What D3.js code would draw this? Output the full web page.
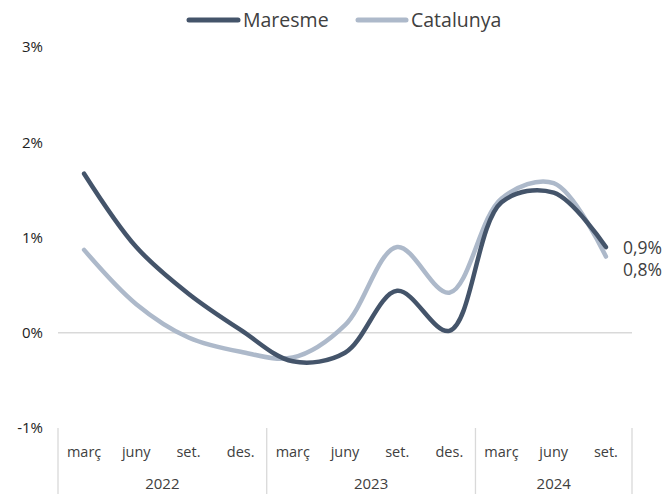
<!DOCTYPE html>
<html><head><meta charset="utf-8">
<script src="https://cdn.jsdelivr.net/npm/d3@7"></script>
<style>body{margin:0;background:#fff}svg{display:block}text{font-family:"Open Sans",Lato,sans-serif}</style>
</head><body>
<svg id="c" width="669" height="494"></svg>
<script>
const months = ["març","juny","set.","des.","març","juny","set.","des.","març","juny","set."];
const years = ["2022","2023","2024"];
const yearCounts = [4,4,3];
const maresme = [1.67,0.90,0.41,0.03,-0.30,-0.21,0.44,0.02,1.37,1.47,0.90];
const catalunya = [0.87,0.30,-0.05,-0.20,-0.26,0.08,0.90,0.42,1.41,1.57,0.80];
const yTicks = [-1,0,1,2,3];
const seriesNames = ["Maresme","Catalunya"];
const colors = ["#44546A","#ADB9CA"];

const svg = d3.select("#c");
const x = d3.scaleBand().domain(d3.range(months.length)).range([58,632]);
const y = d3.scaleLinear().domain([-1,3]).range([428,47]);
const cx = i => x(i) + x.bandwidth()/2;

// y tick labels
svg.append("g").selectAll("text").data(yTicks).join("text")
  .attr("x",43).attr("y",d=>y(d)).attr("dy","0.35em").attr("text-anchor","end")
  .attr("font-size",15).attr("fill","#222").text(d=>d+"%");

// zero line
svg.append("line").attr("x1",58).attr("x2",632).attr("y1",y(0)).attr("y2",y(0))
  .attr("stroke","#D9D9D9").attr("stroke-width",1.5);

// separators
let bounds=[0]; let acc=0; yearCounts.forEach(c=>{acc+=c;bounds.push(acc);});
const bx = d => d<months.length ? x(d) : x(months.length-1)+x.bandwidth();
svg.append("g").selectAll("line").data(bounds).join("line")
  .attr("x1",bx).attr("x2",bx)
  .attr("y1",428).attr("y2",494).attr("stroke","#D9D9D9").attr("stroke-width",1.3);

// month labels
svg.append("g").selectAll("text").data(months).join("text")
  .attr("x",(d,i)=>cx(i)).attr("y",457).attr("text-anchor","middle")
  .attr("font-size",14.5).attr("fill","#404040").text(d=>d);
// year labels
svg.append("g").selectAll("text").data(years).join("text")
  .attr("x",(d,i)=>(bx(bounds[i]) + bx(bounds[i+1]))/2)
  .attr("y",489).attr("text-anchor","middle").attr("font-size",15).attr("fill","#404040").text(d=>d);

const line = d3.line().x((d,i)=>cx(i)).y(d=>y(d)).curve(d3.curveCatmullRom.alpha(0.5));
svg.append("path").attr("d",line(catalunya)).attr("fill","none")
  .attr("stroke",colors[1]).attr("stroke-width",4.5).attr("stroke-linecap","round");
svg.append("path").attr("d",line(maresme)).attr("fill","none")
  .attr("stroke",colors[0]).attr("stroke-width",4.5).attr("stroke-linecap","round");

// end labels
const last = months.length-1;
svg.append("text").attr("x",623).attr("y",248).attr("dy","0.35em").attr("font-size",17.5)
  .attr("fill","#404040").text((maresme[last].toFixed(1)).replace(".",",")+"%");
svg.append("text").attr("x",623).attr("y",270).attr("dy","0.35em").attr("font-size",17.5)
  .attr("fill","#404040").text((catalunya[last].toFixed(1)).replace(".",",")+"%");

// legend
const lg = [{n:seriesNames[0],c:colors[0],x1:189,x2:238,tx:243},{n:seriesNames[1],c:colors[1],x1:358,x2:406,tx:411}];
lg.forEach(l=>{
  svg.append("line").attr("x1",l.x1).attr("x2",l.x2).attr("y1",20).attr("y2",20)
    .attr("stroke",l.c).attr("stroke-width",5).attr("stroke-linecap","round");
  svg.append("text").attr("x",l.tx).attr("y",20).attr("dy","0.35em").attr("font-size",19.5)
    .attr("fill","#404040").text(l.n);
});
</script>
</body></html>
